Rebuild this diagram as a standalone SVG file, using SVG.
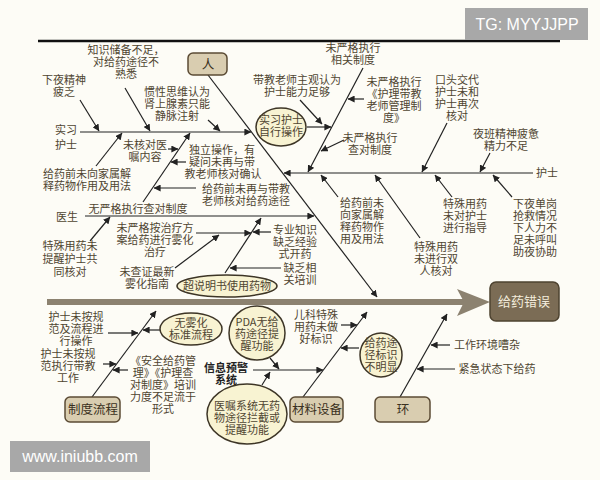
<svg xmlns="http://www.w3.org/2000/svg" width="600" height="480" viewBox="0 0 600 480">
<defs>
<marker id="ah" viewBox="0 0 10 10" refX="9.5" refY="5" markerWidth="7" markerHeight="7" markerUnits="userSpaceOnUse" orient="auto">
<path d="M0,0 L10,5 L0,10 z" fill="#222"/>
</marker>
<style>
text{font-family:"Noto Sans CJK SC","Liberation Serif",serif;font-size:11px;fill:#4f4531;text-anchor:middle}
.wm{font-family:"Liberation Sans",Arial,sans-serif;font-size:16px;fill:#ffffff}
.box{fill:#d9cdb0;stroke:#5b4b34;stroke-width:1.5}
.ell{fill:#f8f3d2;stroke:#3d3526;stroke-width:1.5}
.c line{stroke:#222;stroke-width:1.2;marker-end:url(#ah)}
.bold{font-weight:bold;fill:#222}
.cat{font-size:12.5px;fill:#3a3020}
</style>
</defs>
<rect width="600" height="480" fill="#fdfcf6"/>
<line x1="38" y1="41" x2="560" y2="41" stroke="#111" stroke-width="2.5"/>
<g id="wm-tg"><rect x="465" y="8" width="123" height="32" fill="#a8a8a8"/><text class="wm" x="527" y="30">TG: MYYJJPP</text></g>
<g id="wm-web"><rect x="10" y="441" width="140" height="31" fill="#a8a8a8"/><text class="wm" x="80" y="462">www.iniubb.com</text></g>

<g id="spine">
<line x1="47" y1="302" x2="465" y2="302" stroke="#8c8270" stroke-width="6"/>
<polygon points="457,289 490,302 457,316 464,302" fill="#8c8270"/>
</g>

<g class="c" id="connectors">
<line x1="208" y1="75" x2="377" y2="297"/>
<line x1="80" y1="132" x2="251" y2="132"/>
<line x1="80" y1="100" x2="99" y2="131"/>
<line x1="125" y1="88" x2="150" y2="131"/>
<line x1="208" y1="120" x2="220" y2="131"/>
<line x1="96" y1="166" x2="122" y2="133"/>
<line x1="143" y1="202" x2="190" y2="133"/>
<line x1="168" y1="149" x2="178" y2="149"/>
<line x1="186" y1="162" x2="171" y2="162"/>
<line x1="196" y1="188" x2="154" y2="188"/>
<line x1="85" y1="216" x2="314" y2="216"/>
<line x1="90" y1="241" x2="110" y2="217"/>
<line x1="225" y1="273" x2="261" y2="218"/>
<line x1="196" y1="233" x2="251" y2="233"/>
<line x1="175" y1="268" x2="219" y2="235"/>
<line x1="271" y1="232" x2="253" y2="232"/>
<line x1="281" y1="268" x2="230" y2="268"/>
<line x1="533" y1="173" x2="284" y2="173"/>
<line x1="447" y1="123" x2="422" y2="172"/>
<line x1="490" y1="153" x2="480" y2="172"/>
<line x1="452" y1="197" x2="435" y2="175"/>
<line x1="512" y1="197" x2="493" y2="175"/>
<line x1="420" y1="238" x2="375" y2="175"/>
<line x1="338" y1="197" x2="321" y2="175"/>
<line x1="363" y1="68" x2="308" y2="172"/>
<line x1="364" y1="99" x2="348" y2="99"/>
<line x1="307" y1="127" x2="331" y2="127"/>
<line x1="300" y1="100" x2="322" y2="124"/>
<line x1="344" y1="140" x2="321" y2="151"/>
<line x1="92" y1="397" x2="156" y2="311"/>
<line x1="108" y1="333" x2="138" y2="333"/>
<line x1="160" y1="330" x2="143" y2="330"/>
<line x1="103" y1="364" x2="116" y2="364"/>
<line x1="128" y1="370" x2="113" y2="370"/>
<line x1="303" y1="397" x2="367" y2="312"/>
<line x1="341" y1="325" x2="357" y2="325"/>
<line x1="359" y1="348" x2="341" y2="348"/>
<line x1="253" y1="370" x2="323" y2="370"/>
<line x1="270" y1="358" x2="279" y2="369"/>
<line x1="262" y1="385" x2="270" y2="372"/>
<line x1="400" y1="397" x2="447" y2="314"/>
<line x1="450" y1="345" x2="431" y2="345"/>
<line x1="455" y1="369" x2="417" y2="369"/>
</g>

<g id="head"><rect x="490" y="282" width="69" height="39" rx="6" fill="#7b6c55" stroke="#4e4330" stroke-width="1.5"/><text x="524" y="306" style="fill:#f3ecdc;font-size:13px">给药错误</text></g>
<g id="cat-ren"><rect class="box" x="188" y="53" width="39" height="22" rx="5"/><text class="cat" x="208" y="69">人</text></g>
<g id="cat-zhidu"><rect class="box" x="65" y="397" width="55" height="25" rx="5"/><text class="cat" x="93" y="414">制度流程</text></g>
<g id="cat-cailiao"><rect class="box" x="290" y="397" width="53" height="25" rx="5"/><text class="cat" x="317" y="414">材料设备</text></g>
<g id="cat-huan"><rect class="box" x="375" y="397" width="55" height="25" rx="5"/><text class="cat" x="403" y="414">环</text></g>

<g id="n-shixi"><text x="66" y="134">实习<tspan x="66" y="149">护士</tspan></text></g>
<g id="n-zhishi"><text x="126" y="54">知识储备不足，<tspan x="126" y="66">对给药途径不</tspan><tspan x="126" y="78">熟悉</tspan></text></g>
<g id="n-xiaye"><text x="64" y="84">下夜精神<tspan x="64" y="96">疲乏</tspan></text></g>
<g id="n-guanxing"><text x="177" y="96">惯性思维认为<tspan x="177" y="108">肾上腺素只能</tspan><tspan x="177" y="120">静脉注射</tspan></text></g>
<g id="n-weihedui"><text x="145" y="149">未核对医<tspan x="145" y="161">嘱内容</tspan></text></g>
<g id="n-duli"><text x="222" y="154">独立操作，有<tspan x="222" y="166">疑问未再与带</tspan><tspan x="223" y="178">教老师核对确认</tspan></text></g>
<g id="n-jiaxshu1"><text x="87" y="178">给药前未向家属解<tspan x="87" y="190">释药物作用及用法</tspan></text></g>
<g id="n-weizai"><text x="246" y="193">给药前未再与带教<tspan x="246" y="205">老师核对给药途径</tspan></text></g>
<g id="n-wuyange"><text x="138" y="213">无严格执行查对制度</text></g>
<g id="n-yisheng"><text x="67" y="221">医生</text></g>
<g id="n-teshu1"><text x="70" y="250">特殊用药未<tspan x="70" y="263">提醒护士共</tspan><tspan x="70" y="276">同核对</tspan></text></g>
<g id="n-zhiliao"><text x="155" y="232">未严格按治疗方<tspan x="155" y="244">案给药进行雾化</tspan><tspan x="155" y="256">治疗</tspan></text></g>
<g id="n-chazheng"><text x="147" y="276">未查证最新<tspan x="147" y="288">雾化指南</tspan></text></g>
<g id="n-chaoshuoming"><ellipse class="ell" cx="227" cy="286" rx="50" ry="11"/><text x="227" y="290">超说明书使用药物</text></g>
<g id="n-zhuanye"><text x="295" y="234">专业知识<tspan x="295" y="246">缺乏经验</tspan><tspan x="295" y="258">式开药</tspan></text></g>
<g id="n-peixun"><text x="300" y="272">缺乏相<tspan x="300" y="284">关培训</tspan></text></g>
<g id="n-daijiao"><text x="297" y="84">带教老师主观认为<tspan x="297" y="96">护士能力足够</tspan></text></g>
<g id="n-zixing"><ellipse class="ell" cx="281" cy="127" rx="25" ry="19"/><text x="281" y="124">实习护士<tspan x="281" y="136">自行操作</tspan></text></g>
<g id="n-xiangguan"><text x="353" y="52">未严格执行<tspan x="353" y="64">相关制度</tspan></text></g>
<g id="n-daijiaozhidu"><text x="394" y="86">未严格执行<tspan x="394" y="98">《护理带教</tspan><tspan x="394" y="110">老师管理制</tspan><tspan x="394" y="122">度》</tspan></text></g>
<g id="n-chadui"><text x="370" y="142">未严格执行<tspan x="370" y="154">查对制度</tspan></text></g>
<g id="n-koutou"><text x="457" y="84">口头交代<tspan x="457" y="96">护士未和</tspan><tspan x="457" y="108">护士再次</tspan><tspan x="457" y="120">核对</tspan></text></g>
<g id="n-yeban"><text x="506" y="138">夜班精神疲惫<tspan x="506" y="150">精力不足</tspan></text></g>
<g id="n-hushi"><text x="547" y="177">护士</text></g>
<g id="n-jiashu2"><text x="362" y="207">给药前未<tspan x="362" y="219">向家属解</tspan><tspan x="362" y="231">释药物作</tspan><tspan x="362" y="243">用及用法</tspan></text></g>
<g id="n-zhidao"><text x="465" y="208">特殊用药<tspan x="465" y="220">未对护士</tspan><tspan x="465" y="232">进行指导</tspan></text></g>
<g id="n-dangang"><text x="535" y="208">下夜单岗<tspan x="535" y="220">抢救情况</tspan><tspan x="535" y="232">下人力不</tspan><tspan x="535" y="244">足未呼叫</tspan><tspan x="535" y="256">助夜协助</tspan></text></g>
<g id="n-shuangren"><text x="436" y="251">特殊用药<tspan x="436" y="263">未进行双</tspan><tspan x="436" y="275">人核对</tspan></text></g>
<g id="n-liucheng"><text x="76" y="321">护士未按规<tspan x="76" y="333">范及流程进</tspan><tspan x="76" y="345">行操作</tspan></text></g>
<g id="n-wuwuhua"><ellipse class="ell" cx="191" cy="329" rx="31" ry="16"/><text x="191" y="327">无雾化<tspan x="191" y="339">标准流程</tspan></text></g>
<g id="n-daijiaogz"><text x="68" y="358">护士未按规<tspan x="68" y="370">范执行带教</tspan><tspan x="68" y="382">工作</tspan></text></g>
<g id="n-anquan"><text x="163" y="365">《安全给药管<tspan x="163" y="377">理》《护理查</tspan><tspan x="163" y="389">对制度》培训</tspan><tspan x="163" y="401">力度不足流于</tspan><tspan x="163" y="413">形式</tspan></text></g>
<g id="n-pda"><ellipse class="ell" cx="257" cy="333" rx="28" ry="27"/><text x="257" y="326">PDA无给<tspan x="257" y="338">药途径提</tspan><tspan x="257" y="350">醒功能</tspan></text></g>
<g id="n-erke"><text x="316" y="319">儿科特殊<tspan x="316" y="331">用药未做</tspan><tspan x="316" y="343">好标识</tspan></text></g>
<g id="n-biaoshi"><ellipse class="ell" cx="381" cy="355" rx="21" ry="22"/><text x="381" y="347">给药途<tspan x="381" y="359">径标识</tspan><tspan x="381" y="371">不明显</tspan></text></g>
<g id="n-xinxi"><text class="bold" x="226" y="372">信息预警<tspan x="226" y="384">系统</tspan></text></g>
<g id="n-yizhu"><ellipse class="ell" cx="247" cy="414" rx="40" ry="30"/><text x="247" y="410">医嘱系统无药<tspan x="247" y="422">物途径拦截或</tspan><tspan x="247" y="434">提醒功能</tspan></text></g>
<g id="n-zaoza"><text x="487" y="349">工作环境嘈杂</text></g>
<g id="n-jinji"><text x="497" y="373">紧急状态下给药</text></g>
</svg>
